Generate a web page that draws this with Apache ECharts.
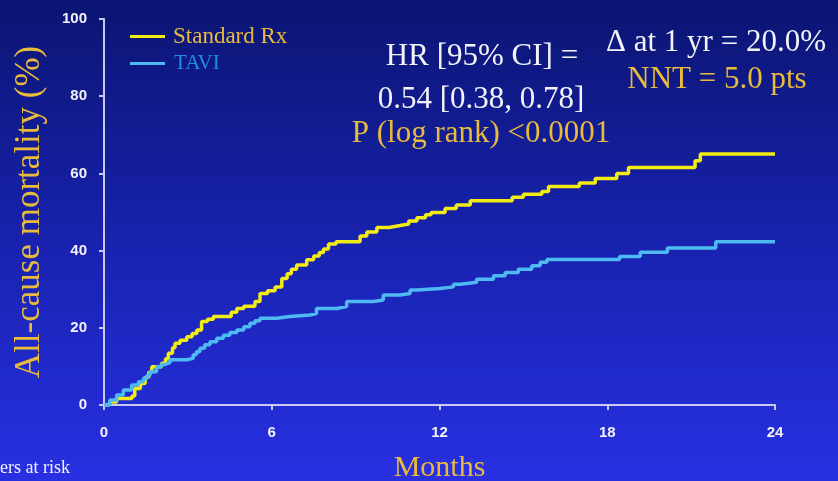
<!DOCTYPE html>
<html>
<head>
<meta charset="utf-8">
<script src="https://cdn.jsdelivr.net/npm/echarts@6/dist/echarts.min.js"></script>
<style>
html,body{margin:0;padding:0;overflow:hidden;}
#chart{width:838px;height:481px;}
</style>
</head>
<body>
<div id="chart"></div>
<script>
// Tick labels
const xTicks = [0, 6, 12, 18, 24];
const yTicks = [0, 20, 40, 60, 80, 100];

// Standard Rx (Kaplan-Meier steps): time in months, cumulative mortality %
const stdTimes = [0, 0.2, 0.45, 1.0, 1.1, 1.3, 1.47, 1.6, 1.71, 2.06, 2.2, 2.3, 2.45, 2.54, 2.72, 2.96, 3.15, 3.32, 3.49, 3.7, 3.91, 4.55, 4.75, 5.0, 5.4, 5.58, 5.85, 6.12, 6.36, 6.55, 6.7, 6.89, 7.25, 7.5, 7.7, 7.85, 8.03, 8.3, 9.16, 9.4, 9.76, 10.2, 10.59, 10.9, 11.19, 11.5, 11.7, 12.2, 12.6, 13.1, 14.6, 15.0, 15.66, 15.9, 17.0, 17.57, 18.34, 18.76, 21.14, 21.33, 24];
const stdValues = [0, 0.8, 1.7, 2.3, 4.3, 5.6, 7.2, 8.5, 9.9, 10.8, 12.0, 13.4, 14.8, 16.0, 16.8, 17.7, 18.5, 19.4, 21.6, 22.2, 22.9, 24.0, 25.0, 25.6, 26.8, 28.9, 29.6, 30.6, 32.8, 34.0, 35.2, 36.3, 37.6, 38.6, 39.5, 40.4, 41.7, 42.3, 43.8, 44.8, 46.0, 46.5, 46.9, 47.7, 48.5, 49.3, 49.9, 50.9, 51.8, 52.9, 53.8, 54.6, 55.3, 56.6, 57.5, 58.7, 60.0, 61.5, 63.3, 65.0, 65.0];

// TAVI (Kaplan-Meier steps)
const taviTimes = [0, 0.21, 0.45, 0.69, 0.99, 1.23, 1.41, 1.55, 1.65, 1.88, 2.05, 2.18, 2.36, 2.96, 3.19, 3.3, 3.43, 3.6, 3.79, 4.03, 4.27, 4.5, 4.75, 5.0, 5.22, 5.4, 5.58, 6.18, 6.65, 7.37, 7.6, 8.33, 8.68, 9.64, 9.99, 10.59, 10.95, 11.19, 12.02, 12.5, 12.74, 13.33, 13.93, 14.35, 14.82, 15.3, 15.6, 15.84, 18.44, 19.18, 20.15, 21.88, 24];
const taviValues = [0, 1.3, 2.6, 3.9, 5.2, 6.0, 6.9, 7.8, 8.6, 9.9, 10.5, 11.0, 11.7, 12.1, 13.0, 13.8, 14.7, 15.6, 16.4, 17.3, 18.1, 18.8, 19.4, 20.3, 21.2, 21.8, 22.5, 22.9, 23.3, 23.7, 25.0, 25.5, 26.8, 27.2, 28.5, 28.9, 29.8, 30.2, 30.6, 31.3, 31.8, 32.6, 33.5, 34.3, 35.2, 36.1, 37.0, 37.7, 38.5, 39.6, 40.7, 42.3, 42.3];

const seriesNames = ['Standard Rx', 'TAVI'];

const zip = (a, b) => a.map((t, i) => [t, b[i]]);

const gold = '#e9bb3c';
const white = '#f2f2f8';

const chart = echarts.init(document.getElementById('chart'), null, {renderer: 'canvas'});
chart.setOption({
  animation: false,
  backgroundColor: {
    type: 'linear', x: 0, y: 0, x2: 0, y2: 1,
    colorStops: [
      {offset: 0, color: '#0b1572'},
      {offset: 0.5, color: '#1822ae'},
      {offset: 1, color: '#2830e2'}
    ]
  },
  grid: {left: 104, right: 63, top: 19, bottom: 76, containLabel: false, outerBoundsMode: 'none'},
  legend: {
    orient: 'vertical',
    left: 125,
    top: 20,
    icon: 'rect',
    itemWidth: 35,
    itemHeight: 3,
    itemGap: 5,
    selectedMode: false,
    data: [
      {name: seriesNames[0], textStyle: {color: gold, fontSize: 23, fontFamily: 'Liberation Serif', padding: [0, 0, 0, 3]}},
      {name: seriesNames[1], textStyle: {color: '#1e8fe6', fontSize: 21, fontFamily: 'Liberation Serif', padding: [0, 0, 0, 4]}}
    ]
  },
  xAxis: {
    type: 'value',
    min: 0, max: 24, interval: 6,
    name: 'Months',
    nameLocation: 'middle',
    nameGap: 48,
    nameTextStyle: {color: gold, fontSize: 30, fontFamily: 'Liberation Serif'},
    axisLine: {show: true, lineStyle: {color: '#c6caf2', width: 2}},
    axisTick: {show: true, length: 5, lineStyle: {color: '#c6caf2', width: 2}},
    axisLabel: {color: white, fontSize: 15, fontWeight: 'bold', fontFamily: 'Liberation Sans', margin: 20,
      formatter: v => xTicks.includes(v) ? String(v) : ''},
    splitLine: {show: false}
  },
  yAxis: {
    type: 'value',
    min: 0, max: 100, interval: 20,
    name: 'All-cause mortality (%)',
    nameLocation: 'middle',
    nameRotate: 90,
    nameGap: 57,
    nameTextStyle: {color: gold, fontSize: 35, fontFamily: 'Liberation Serif'},
    axisLine: {show: true, lineStyle: {color: '#c6caf2', width: 2}},
    axisTick: {show: true, length: 5, lineStyle: {color: '#c6caf2', width: 2}},
    axisLabel: {color: white, fontSize: 15, fontWeight: 'bold', fontFamily: 'Liberation Sans', margin: 17,
      formatter: v => yTicks.includes(v) ? String(v) : ''},
    splitLine: {show: false}
  },
  series: [
    {
      name: seriesNames[0], type: 'line', step: 'end', showSymbol: false,
      data: zip(stdTimes, stdValues),
      lineStyle: {color: '#f2ec12', width: 3.5},
      itemStyle: {color: '#f2ec12'}
    },
    {
      name: seriesNames[1], type: 'line', step: 'end', showSymbol: false,
      data: zip(taviTimes, taviValues),
      lineStyle: {color: '#4fbaf2', width: 3.5},
      itemStyle: {color: '#4fbaf2'}
    }
  ],
  graphic: [
    {type: 'text', x: 482, y: 57, style: {text: 'HR [95% CI] =', fill: white, font: '31px "Liberation Serif"', align: 'center', verticalAlign: 'middle'}},
    {type: 'text', x: 481, y: 100, style: {text: '0.54 [0.38, 0.78]', fill: white, font: '31px "Liberation Serif"', align: 'center', verticalAlign: 'middle'}},
    {type: 'text', x: 481, y: 134, style: {text: 'P (log rank) <0.0001', fill: gold, font: '31px "Liberation Serif"', align: 'center', verticalAlign: 'middle'}},
    {type: 'text', x: 716, y: 43, style: {text: 'Δ at 1 yr = 20.0%', fill: white, font: '31px "Liberation Serif"', align: 'center', verticalAlign: 'middle'}},
    {type: 'text', x: 717, y: 80, style: {text: 'NNT = 5.0 pts', fill: gold, font: '31px "Liberation Serif"', align: 'center', verticalAlign: 'middle'}},
    {type: 'text', x: 0, y: 468, style: {text: 'ers at risk', fill: white, font: '18px "Liberation Serif"', align: 'left', verticalAlign: 'middle'}}
  ]
});
</script>
</body>
</html>
